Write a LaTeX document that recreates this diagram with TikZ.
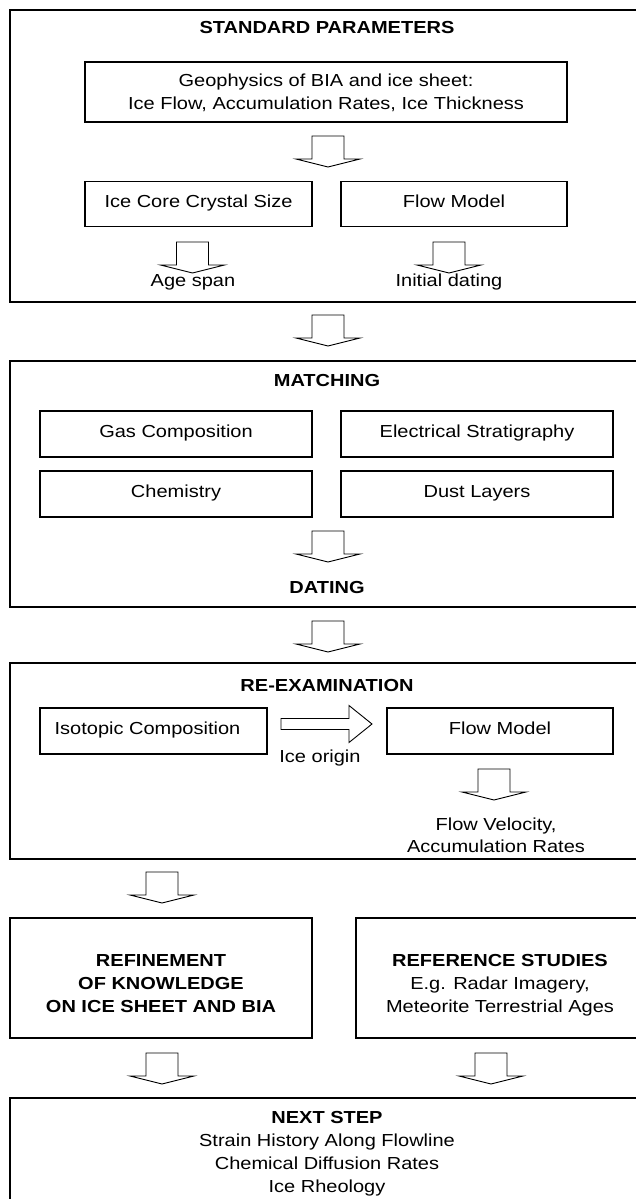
\documentclass[tikz,border=0pt]{standalone}
\usepackage{fontspec}
\setmainfont{Liberation Sans}[FakeStretch=1.15]
\begin{document}
\begin{tikzpicture}[x=1pt,y=-1pt,
  every node/.style={font=\fontsize{17.4}{20}\selectfont, inner sep=0pt, outer sep=0pt},
  outerbox/.style={draw, line width=1.3pt, anchor=north west},
  innerbox/.style={draw, line width=1.1pt},
  titletext/.style={font=\fontsize{17.4}{20}\selectfont\bfseries, anchor=base},
  plaintext/.style={anchor=base},
  arrowline/.style={draw, line width=0.9pt, line join=miter},
  pics/dnarrow/.style={code={
    \draw[arrowline] (-16,0) -- (16,0) -- (16,23) -- (32,23) -- (0,31) -- (-32,23) -- (-16,23) -- cycle;
  }},
]
\clip (0,0) rectangle (636,1199);
\fill[white] (0,0) rectangle (636,1199);

% ---- Standard parameters
\node[outerbox, minimum width=636pt, minimum height=292pt] (sp) at (10,10) {};
\node[titletext] (spt) at (327,34) {STANDARD PARAMETERS};
\node[innerbox, minimum width=482pt, minimum height=60pt] (geo) at (326,92) {};
\node[plaintext] (geo1) at (326,86) {Geophysics of BIA and ice sheet:};
\node[plaintext] (geo2) at (326,109) {Ice Flow, Accumulation Rates, Ice Thickness};
\pic (a1) at (328,136) {dnarrow};
\node[innerbox, minimum width=227pt, minimum height=45pt] (core) at (198.5,204) {};
\node[plaintext] (coret) at (198.5,207) {Ice Core Crystal Size};
\node[innerbox, minimum width=226pt, minimum height=45pt] (fm1) at (454,204) {};
\node[plaintext] (fm1t) at (454,207) {Flow Model};
\pic (a2) at (192.5,242) {dnarrow};
\pic (a3) at (449,242) {dnarrow};
\node[plaintext] (age) at (193,286) {Age span};
\node[plaintext] (init) at (449,286) {Initial dating};

\pic (a4) at (328,315) {dnarrow};

% ---- Matching
\node[outerbox, minimum width=636pt, minimum height=246pt] (mt) at (10,361) {};
\node[titletext] (mtt) at (327,386) {MATCHING};
\node[innerbox, minimum width=272pt, minimum height=46pt] (gas) at (176,434) {};
\node[plaintext] (gast) at (176,437) {Gas Composition};
\node[innerbox, minimum width=272pt, minimum height=46pt] (elec) at (477,434) {};
\node[plaintext] (elect) at (477,437) {Electrical Stratigraphy};
\node[innerbox, minimum width=272pt, minimum height=46pt] (chem) at (176,494) {};
\node[plaintext] (chemt) at (176,497) {Chemistry};
\node[innerbox, minimum width=272pt, minimum height=46pt] (dust) at (477,494) {};
\node[plaintext] (dustt) at (477,497) {Dust Layers};
\pic (a5) at (328,531) {dnarrow};
\node[titletext] (dat) at (327,593) {DATING};

\pic (a6) at (328,621) {dnarrow};

% ---- Re-examination
\node[outerbox, minimum width=636pt, minimum height=196pt] (re) at (10,663) {};
\node[titletext] (ret) at (327,691) {RE-EXAMINATION};
\node[innerbox, minimum width=227pt, minimum height=46pt] (iso) at (153.5,731) {};
\node[plaintext] (isot) at (147.5,734) {Isotopic Composition};
\node[innerbox, minimum width=226pt, minimum height=46pt] (fm2) at (500,731) {};
\node[plaintext] (fm2t) at (500,734) {Flow Model};
\draw[arrowline] (281,718.5) -- (349,718.5) -- (349,705.5) -- (372,724) -- (349,742.5) -- (349,729.5) -- (281,729.5) -- cycle;
\node[plaintext] (orig) at (320,762) {Ice origin};
\pic (a7) at (494,769) {dnarrow};
\node[plaintext] (vel1) at (496,830) {Flow Velocity,};
\node[plaintext] (vel2) at (496,852) {Accumulation Rates};

\pic (a8) at (162,872) {dnarrow};

% ---- Refinement / Reference
\node[innerbox, line width=1.3pt, minimum width=302pt, minimum height=120pt] (ref) at (161,978) {};
\node[titletext] (ref1) at (161,966) {REFINEMENT};
\node[titletext] (ref2) at (161,989) {OF KNOWLEDGE};
\node[titletext] (ref3) at (161,1012) {ON ICE SHEET AND BIA};
\node[innerbox, line width=1.3pt, minimum width=288pt, minimum height=120pt] (refs) at (500,978) {};
\node[titletext] (refs1) at (500,966) {REFERENCE STUDIES};
\node[plaintext] (refs2) at (500,989) {E.g. Radar Imagery,};
\node[plaintext] (refs3) at (500,1012) {Meteorite Terrestrial Ages};
\pic (a9) at (162,1053) {dnarrow};
\pic (a10) at (491,1053) {dnarrow};

% ---- Next step
\node[outerbox, minimum width=636pt, minimum height=150pt] (ns) at (10,1098) {};
\node[titletext] (ns1) at (327,1123) {NEXT STEP};
\node[plaintext] (ns2) at (327,1146) {Strain History Along Flowline};
\node[plaintext] (ns3) at (327,1169) {Chemical Diffusion Rates};
\node[plaintext] (ns4) at (327,1192) {Ice Rheology};
\end{tikzpicture}
\end{document}
